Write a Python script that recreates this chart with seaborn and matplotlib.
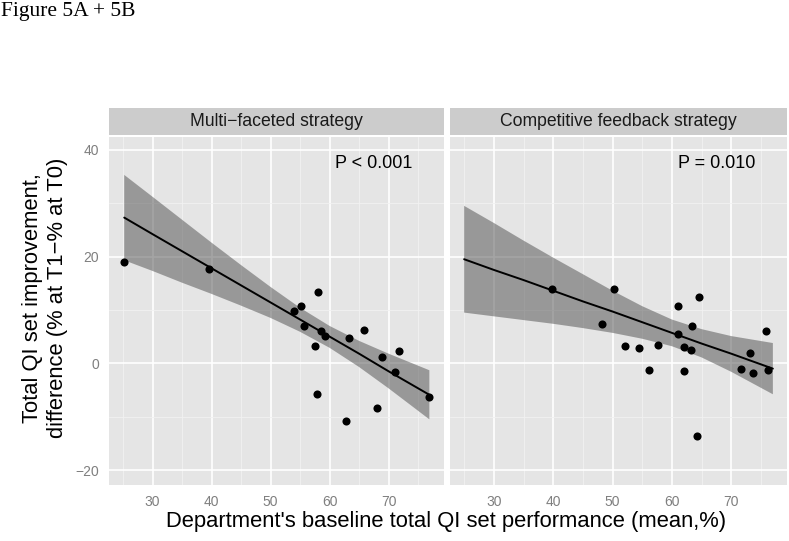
import matplotlib
matplotlib.use('Agg')
import matplotlib.pyplot as plt
import pandas as pd
import seaborn as sns

# ---- data ----
multi_x = [25.2, 39.6, 58.0, 55.2, 54.0, 55.6, 58.5, 59.3, 63.3, 65.8,
           57.6, 68.8, 71.7, 71.0, 76.8, 57.8, 68.0, 62.7]
multi_y = [18.9, 17.7, 13.3, 10.7, 9.8, 7.0, 6.1, 5.2, 4.8, 6.3,
           3.3, 1.1, 2.3, -1.7, -6.3, -5.8, -8.4, -10.9]

comp_x = [39.8, 50.2, 61.1, 64.6, 48.3, 63.3, 75.9, 61.1, 52.1, 54.4,
          57.6, 62.0, 63.2, 73.2, 56.1, 62.0, 71.7, 73.6, 76.2, 64.3]
comp_y = [14.0, 14.0, 10.7, 12.5, 7.3, 6.9, 6.1, 5.5, 3.3, 2.8,
          3.4, 3.0, 2.4, 1.9, -1.3, -1.4, -1.1, -1.9, -1.3, -13.7]

# fitted line and 95% band
multi_fit_x = [25.2, 30, 35, 40, 45, 50, 55, 60, 65, 70, 76.9]
multi_fit_y = [27.3, 24.2, 21.0, 17.8, 14.6, 11.4, 8.2, 5.0, 1.8, -1.5, -5.9]
multi_band_lo = [19.3, 17.3, 15.1, 13.0, 10.8, 8.5, 5.9, 2.9, -0.7, -4.7, -10.5]
multi_band_hi = [35.3, 31.2, 26.9, 22.6, 18.4, 14.3, 10.4, 7.0, 4.2, 1.8, -1.3]

comp_fit_x = [25.0, 30, 35, 40, 45, 50, 55, 60, 65, 70, 77.0]
comp_fit_y = [19.5, 17.5, 15.6, 13.6, 11.6, 9.7, 7.7, 5.7, 3.7, 1.8, -1.0]
comp_band_lo = [9.5, 8.8, 8.1, 7.4, 6.6, 5.7, 4.6, 3.2, 1.1, -1.6, -5.8]
comp_band_hi = [29.5, 26.3, 23.0, 19.8, 16.7, 13.6, 10.7, 8.2, 6.4, 5.1, 3.8]

strategies = ['Multi\u2212faceted strategy', 'Competitive feedback strategy']
p_labels = ['P < 0.001', 'P = 0.010']
x_ticks = [30, 40, 50, 60, 70]
y_ticks = [-20, 0, 20, 40]

points = pd.concat([
    pd.DataFrame({'x': multi_x, 'y': multi_y, 'strategy': strategies[0]}),
    pd.DataFrame({'x': comp_x, 'y': comp_y, 'strategy': strategies[1]}),
])
fits = pd.concat([
    pd.DataFrame({'x': multi_fit_x, 'y': multi_fit_y, 'lo': multi_band_lo,
                  'hi': multi_band_hi, 'strategy': strategies[0]}),
    pd.DataFrame({'x': comp_fit_x, 'y': comp_fit_y, 'lo': comp_band_lo,
                  'hi': comp_band_hi, 'strategy': strategies[1]}),
])

sns.set_style('darkgrid', {'axes.facecolor': '#e5e5e5', 'grid.color': 'white'})
plt.rcParams['font.family'] = ['Liberation Sans', 'DejaVu Sans']

W, H = 789, 541
fig = plt.figure(figsize=(W / 100, H / 100), dpi=100)

# panel boxes in pixels (left, right)
panels = [(109, 444), (450, 787)]
p_top, p_bot = 137, 485
s_top, s_bot = 108, 135

x_lo, x_hi = points['x'].min(), points['x'].max()
pad = (x_hi - x_lo) * 0.05

for i, (strategy, (l, r)) in enumerate(zip(strategies, panels)):
    ax = fig.add_axes([l / W, 1 - p_bot / H, (r - l) / W, (p_bot - p_top) / H])
    pts = points[points['strategy'] == strategy]
    fit = fits[fits['strategy'] == strategy]

    ax.fill_between(fit['x'], fit['lo'], fit['hi'], facecolor='#5a5a5a',
                    alpha=0.55, edgecolor='none', zorder=3)
    sns.scatterplot(data=pts, x='x', y='y', ax=ax, color='black', s=34,
                    linewidth=0, zorder=4)
    sns.lineplot(data=fit, x='x', y='y', ax=ax, color='black', lw=1.4,
                 zorder=5)

    ax.set_xlim(x_lo - pad, x_hi + pad)
    ax.set_ylim(-22.8, 42.4)
    ax.set_xticks(x_ticks)
    ax.set_yticks(y_ticks)
    ax.set_xticks([25, 35, 45, 55, 65, 75], minor=True)
    ax.set_yticks([-10, 10, 30], minor=True)
    ax.grid(which='major', color='white', lw=1.2)
    ax.grid(which='minor', color='#f2f2f2', lw=0.6)
    ax.set_axisbelow(True)
    for sp in ax.spines.values():
        sp.set_visible(False)
    ax.set_xlabel('')
    ax.set_ylabel('')
    ax.tick_params(axis='both', which='major', direction='out', length=4,
                   width=1.1, color='#7f7f7f', labelcolor='#7f7f7f',
                   labelsize=10, pad=3)
    ax.tick_params(axis='both', which='minor', length=0)
    if i == 1:
        ax.tick_params(axis='y', which='major', length=0, labelleft=False)
    ax.text(67.5, 37.5, p_labels[i], ha='center', va='center',
            fontsize=13, color='black')

    sx = fig.add_axes([l / W, 1 - s_bot / H, (r - l) / W, (s_bot - s_top) / H])
    sx.set_facecolor('#cccccc')
    sx.set_xticks([])
    sx.set_yticks([])
    sx.grid(False)
    for sp in sx.spines.values():
        sp.set_visible(False)
    sx.text(0.5, 0.5, strategy, ha='center', va='center', fontsize=12.7,
            color='#1a1a1a', transform=sx.transAxes)

fig.text(446 / W, 1 - 521 / H, "Department's baseline total QI set performance (mean,%)",
         ha='center', va='center', fontsize=15.8, color='black')
fig.text(45 / W, 1 - 298 / H, 'Total QI set improvement,\ndifference (% at T1\u2212% at T0)',
         ha='center', va='center', rotation=90, fontsize=15.8, linespacing=1.2,
         multialignment='center', color='black')
fig.text(1 / W, 1 - 2 / H, 'Figure 5A + 5B', ha='left', va='top',
         fontsize=15.5, family=['Liberation Serif', 'DejaVu Serif'], color='black')

fig.savefig('out.png', dpi=100, facecolor='white')
